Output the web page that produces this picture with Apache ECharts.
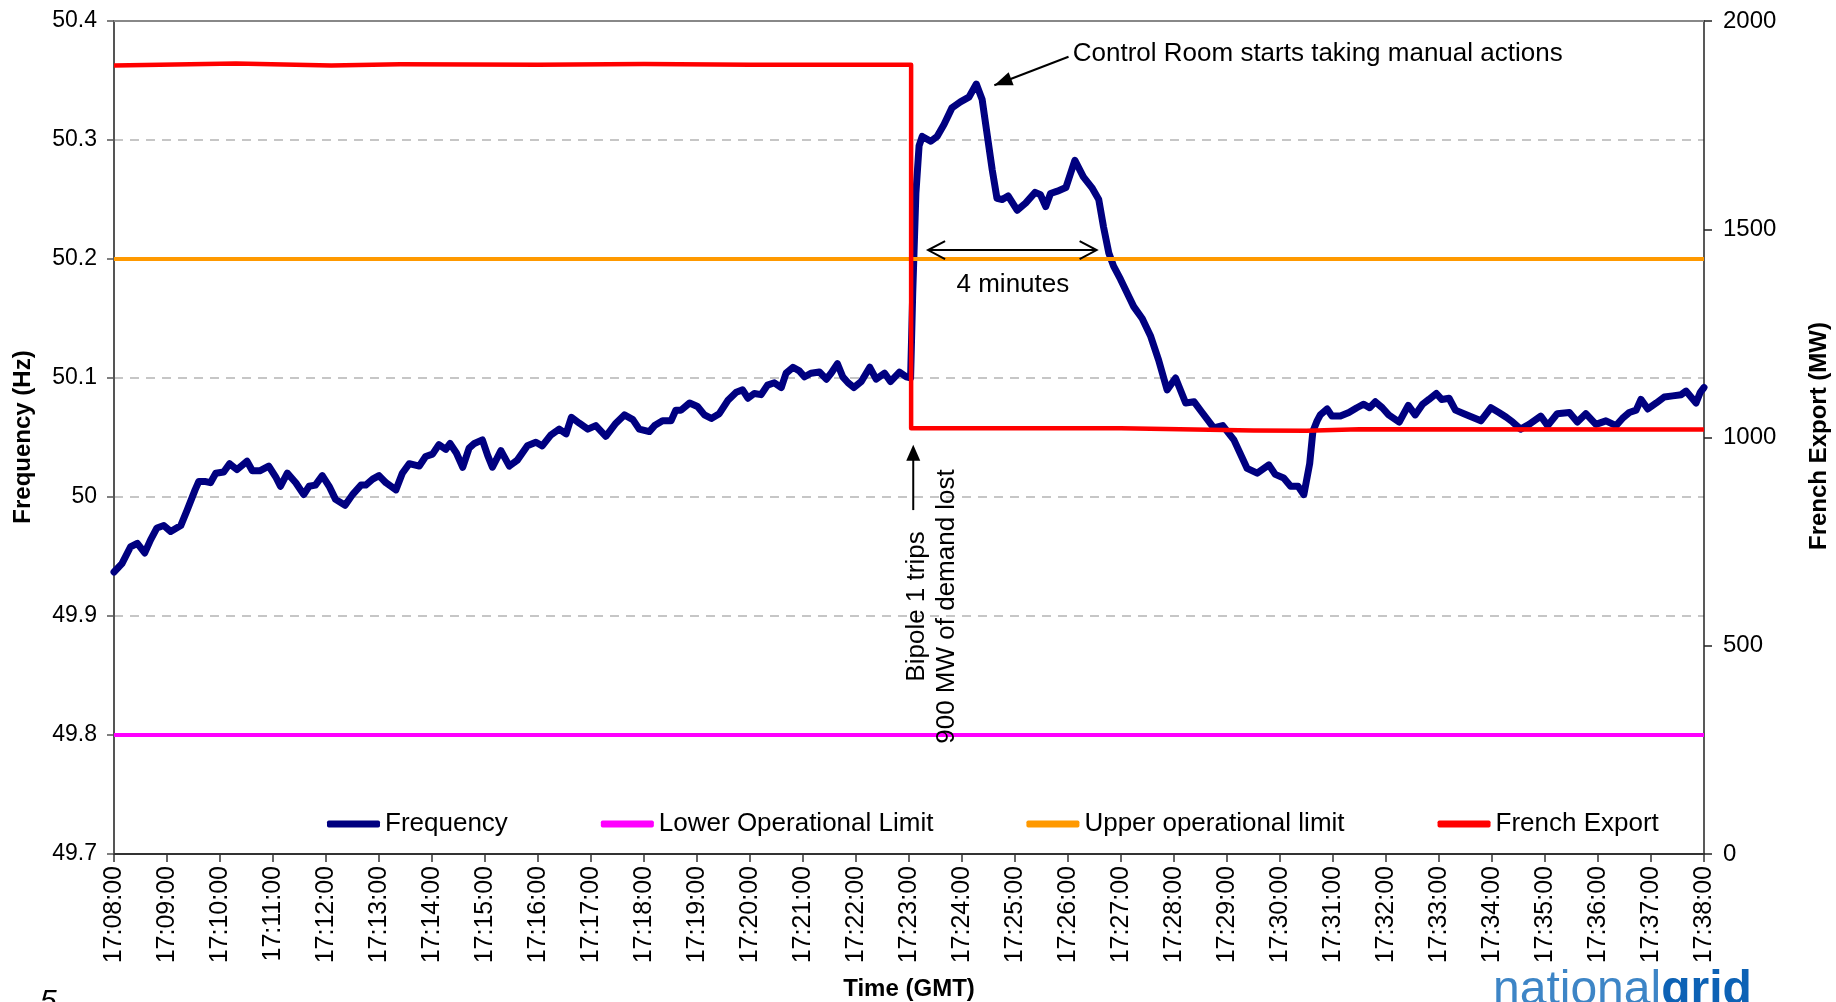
<!DOCTYPE html>
<html>
<head>
<meta charset="utf-8">
<title>Frequency and French Export</title>
<script src="https://cdn.jsdelivr.net/npm/echarts@6/dist/echarts.min.js"></script>
<style>
  html, body { margin: 0; padding: 0; background: #fff; }
  #chart { width: 1836px; height: 1002px; }
</style>
</head>
<body>
<div id="chart"></div>
<script>
// x axis: minutes after 17:08:00, one label per minute
var timeLabels = ['17:08:00', '17:09:00', '17:10:00', '17:11:00', '17:12:00', '17:13:00', '17:14:00',
    '17:15:00', '17:16:00', '17:17:00', '17:18:00', '17:19:00', '17:20:00', '17:21:00', '17:22:00',
    '17:23:00', '17:24:00', '17:25:00', '17:26:00', '17:27:00', '17:28:00', '17:29:00', '17:30:00',
    '17:31:00', '17:32:00', '17:33:00', '17:34:00', '17:35:00', '17:36:00', '17:37:00', '17:38:00'];

// system frequency (Hz): [minutes after 17:08, value]
var frequency = [
    [0, 49.937], [0.15, 49.944], [0.31, 49.958], [0.44, 49.961], [0.58, 49.953], [0.69, 49.964],
    [0.81, 49.974], [0.94, 49.976], [1.07, 49.971], [1.26, 49.976], [1.38, 49.989], [1.53, 50.006],
    [1.60, 50.013], [1.73, 50.013], [1.82, 50.012], [1.92, 50.020], [2.07, 50.021], [2.18, 50.028],
    [2.32, 50.023], [2.51, 50.030], [2.61, 50.022], [2.75, 50.022], [2.92, 50.026], [3.05, 50.017],
    [3.14, 50.009], [3.27, 50.020], [3.43, 50.012], [3.58, 50.002], [3.68, 50.009], [3.80, 50.010],
    [3.93, 50.018], [4.06, 50.009], [4.18, 49.998], [4.36, 49.993], [4.50, 50.002], [4.66, 50.010],
    [4.75, 50.010], [4.88, 50.015], [5.00, 50.018], [5.13, 50.012], [5.32, 50.006], [5.44, 50.020],
    [5.57, 50.028], [5.76, 50.026], [5.88, 50.034], [6.01, 50.036], [6.13, 50.044], [6.26, 50.040],
    [6.34, 50.045], [6.46, 50.037], [6.58, 50.025], [6.70, 50.041], [6.80, 50.045], [6.95, 50.048],
    [7.05, 50.035], [7.14, 50.025], [7.30, 50.039], [7.46, 50.026], [7.61, 50.031], [7.80, 50.043],
    [7.96, 50.046], [8.08, 50.043], [8.24, 50.052], [8.40, 50.057], [8.53, 50.053], [8.63, 50.067],
    [8.78, 50.062], [8.94, 50.057], [9.09, 50.060], [9.28, 50.051], [9.47, 50.062], [9.63, 50.069],
    [9.79, 50.065], [9.91, 50.057], [10.10, 50.055], [10.20, 50.060], [10.35, 50.064], [10.51, 50.064],
    [10.60, 50.073], [10.70, 50.073], [10.86, 50.079], [11.01, 50.076], [11.14, 50.069], [11.27, 50.066],
    [11.42, 50.070], [11.58, 50.081], [11.74, 50.088], [11.86, 50.090], [11.96, 50.083], [12.08, 50.087],
    [12.21, 50.086], [12.33, 50.094], [12.46, 50.096], [12.59, 50.092], [12.68, 50.104], [12.81, 50.109],
    [12.93, 50.106], [13.03, 50.101], [13.15, 50.104], [13.31, 50.105], [13.44, 50.099], [13.53, 50.104],
    [13.65, 50.112], [13.75, 50.101], [13.85, 50.096], [13.96, 50.092], [14.10, 50.097], [14.26, 50.109],
    [14.38, 50.099], [14.54, 50.104], [14.65, 50.097], [14.82, 50.105], [14.95, 50.101], [15.03, 50.100],
    [15.07, 50.171], [15.13, 50.255], [15.19, 50.295], [15.25, 50.303], [15.41, 50.299], [15.53, 50.303],
    [15.66, 50.313], [15.81, 50.327], [15.97, 50.332], [16.13, 50.336], [16.27, 50.347], [16.38, 50.334],
    [16.48, 50.303], [16.57, 50.275], [16.66, 50.251], [16.76, 50.250], [16.87, 50.253], [17.04, 50.241],
    [17.20, 50.247], [17.38, 50.256], [17.48, 50.254], [17.58, 50.244], [17.67, 50.255], [17.80, 50.257],
    [17.96, 50.260], [18.13, 50.283], [18.29, 50.269], [18.45, 50.260], [18.58, 50.250], [18.67, 50.227],
    [18.77, 50.205], [18.86, 50.194], [18.99, 50.183], [19.12, 50.171], [19.24, 50.160], [19.40, 50.150],
    [19.56, 50.135], [19.71, 50.115], [19.87, 50.090], [20.03, 50.100], [20.22, 50.079], [20.38, 50.080],
    [20.53, 50.071], [20.75, 50.058], [20.92, 50.060], [21.13, 50.048], [21.38, 50.024], [21.57, 50.020],
    [21.79, 50.027], [21.91, 50.019], [22.07, 50.016], [22.20, 50.009], [22.34, 50.009], [22.45, 50.002],
    [22.56, 50.028], [22.62, 50.055], [22.70, 50.064], [22.76, 50.069], [22.89, 50.074], [22.98, 50.068],
    [23.14, 50.068], [23.30, 50.071], [23.45, 50.075], [23.58, 50.078], [23.69, 50.075], [23.80, 50.080],
    [23.93, 50.075], [24.05, 50.069], [24.25, 50.063], [24.42, 50.077], [24.55, 50.069], [24.69, 50.078],
    [24.81, 50.082], [24.95, 50.087], [25.05, 50.082], [25.19, 50.083], [25.31, 50.073], [25.47, 50.070],
    [25.63, 50.067], [25.79, 50.064], [25.98, 50.075], [26.13, 50.071], [26.27, 50.067], [26.39, 50.063],
    [26.54, 50.057], [26.70, 50.061], [26.92, 50.068], [27.05, 50.060], [27.23, 50.070], [27.46, 50.071],
    [27.61, 50.063], [27.77, 50.070], [27.96, 50.061], [28.15, 50.064], [28.34, 50.060], [28.46, 50.066],
    [28.59, 50.071], [28.72, 50.073], [28.81, 50.082], [28.94, 50.074], [29.10, 50.079], [29.25, 50.084],
    [29.41, 50.085], [29.57, 50.086], [29.66, 50.089], [29.85, 50.079], [29.93, 50.088], [30.0, 50.092]
];

// French export (MW), secondary axis
var frenchExport = [
    [0, 1893], [2.3, 1898], [4.1, 1893], [5.4, 1896], [8, 1895], [10, 1897], [12, 1895],
    [15.04, 1895], [15.04, 1022], [19, 1022], [21.5, 1017], [22.5, 1016], [23.5, 1020], [30, 1019]
];

// operational limits (Hz)
var lowerLimit = 49.8;
var upperLimit = 50.2;

// annotations, in data units [minutes, Hz]
var controlRoomArrow = { tip: [16.61, 50.346], tail: [18.01, 50.370], label: [18.09, 50.372] };
var fourMinArrow = { from: [15.36, 50.2075], to: [18.54, 50.2075], label: [16.96, 50.178] };
var bipoleArrow = { tip: [15.08, 50.044], tail: [15.08, 49.989], label: [15.44, 49.908] };

var FONT = "'Liberation Sans', Arial, sans-serif";

var chart = echarts.init(document.getElementById('chart'));

function flat(v) {
    return [[0, v], [30, v]];
}

chart.setOption({
    animation: false,
    textStyle: { fontFamily: FONT },
    grid: { left: 114, right: 132, top: 21, bottom: 148 },
    legend: {
        left: 322,
        top: 806,
        itemGap: 93,
        itemWidth: 53,
        itemHeight: 7,
        icon: 'roundRect',
        textStyle: { fontSize: 26, color: '#000', fontFamily: FONT },
        data: ['Frequency', 'Lower Operational Limit', 'Upper operational limit', 'French Export']
    },
    xAxis: [
        {
            type: 'value',
            min: 0,
            max: 30,
            interval: 1,
            axisLine: { onZero: false, lineStyle: { color: '#333', width: 2 } },
            axisTick: { length: 8, lineStyle: { color: '#333', width: 1.5 } },
            axisLabel: {
                rotate: 90,
                margin: 12,
                fontSize: 25,
                color: '#000',
                formatter: function (v) { return timeLabels[Math.round(v)]; }
            },
            splitLine: { show: false }
        },
        {
            // plot area top border
            type: 'value',
            position: 'top',
            min: 0,
            max: 30,
            axisLine: { onZero: false, lineStyle: { color: '#888', width: 2 } },
            axisTick: { show: false },
            axisLabel: { show: false },
            splitLine: { show: false }
        }
    ],
    yAxis: [
        {
            type: 'value',
            min: 49.7,
            max: 50.4,
            interval: 0.1,
            axisLine: { show: true, onZero: false, lineStyle: { color: '#555', width: 2 } },
            axisTick: { show: true, length: 7, lineStyle: { color: '#555', width: 1.5 } },
            axisLabel: { margin: 17, fontSize: 23, color: '#000' },
            splitLine: { lineStyle: { color: '#b4b4b4', width: 1.5, type: [9, 7] } }
        },
        {
            type: 'value',
            position: 'right',
            min: 0,
            max: 2000,
            interval: 500,
            axisLine: { show: true, onZero: false, lineStyle: { color: '#222', width: 1.5 } },
            axisTick: { show: true, length: 8, lineStyle: { color: '#222', width: 1.5 } },
            axisLabel: {
                margin: 19,
                fontSize: 24,
                color: '#000',
                formatter: function (v) { return String(v); }
            },
            splitLine: { show: false }
        }
    ],
    series: [
        {
            name: 'Frequency',
            type: 'line',
            data: frequency,
            showSymbol: false,
            color: '#000080',
            lineStyle: { color: '#000080', width: 7, cap: 'round', join: 'round' },
            z: 2
        },
        {
            name: 'Lower Operational Limit',
            type: 'line',
            data: flat(lowerLimit),
            showSymbol: false,
            color: '#ff00ff',
            lineStyle: { color: '#ff00ff', width: 4 },
            z: 3
        },
        {
            name: 'Upper operational limit',
            type: 'line',
            data: flat(upperLimit),
            showSymbol: false,
            color: '#ff9900',
            lineStyle: { color: '#ff9900', width: 4 },
            z: 3
        },
        {
            name: 'French Export',
            type: 'line',
            yAxisIndex: 1,
            data: frenchExport,
            showSymbol: false,
            color: '#ff0000',
            lineStyle: { color: '#ff0000', width: 4.5, join: 'round' },
            z: 4
        }
    ]
});

// annotation overlay, positioned through the axes
function px(p) {
    return chart.convertToPixel({ xAxisIndex: 0, yAxisIndex: 0 }, p);
}

function head(tip, from, len, half) {
    var dx = tip[0] - from[0], dy = tip[1] - from[1];
    var L = Math.sqrt(dx * dx + dy * dy);
    var ux = dx / L, uy = dy / L;
    var bx = tip[0] - ux * len, by = tip[1] - uy * len;
    return [[bx - uy * half, by + ux * half], tip, [bx + uy * half, by - ux * half]];
}

var crTip = px(controlRoomArrow.tip), crTail = px(controlRoomArrow.tail), crLab = px(controlRoomArrow.label);
var fmA = px(fourMinArrow.from), fmB = px(fourMinArrow.to), fmLab = px(fourMinArrow.label);
var bpTip = px(bipoleArrow.tip), bpTail = px(bipoleArrow.tail), bpLab = px(bipoleArrow.label);

var black = { stroke: '#000', lineWidth: 2, fill: null };

chart.setOption({
    graphic: [
        // Control Room arrow
        { type: 'line', shape: { x1: crTail[0], y1: crTail[1], x2: crTip[0], y2: crTip[1] }, style: black, z: 50 },
        { type: 'polygon', shape: { points: head(crTip, crTail, 18, 7) }, style: { fill: '#000' }, z: 50 },
        {
            type: 'text', x: crLab[0], y: crLab[1], z: 50,
            style: { text: 'Control Room starts taking manual actions', fontSize: 26, fontFamily: FONT, fill: '#000', align: 'left', verticalAlign: 'middle' }
        },
        // 4 minutes double arrow
        { type: 'line', shape: { x1: fmA[0], y1: fmA[1], x2: fmB[0], y2: fmB[1] }, style: black, z: 50 },
        { type: 'polyline', shape: { points: head(fmA, fmB, 17, 9) }, style: black, z: 50 },
        { type: 'polyline', shape: { points: head(fmB, fmA, 17, 9) }, style: black, z: 50 },
        {
            type: 'text', x: fmLab[0], y: fmLab[1], z: 50,
            style: { text: '4 minutes', fontSize: 26, fontFamily: FONT, fill: '#000', align: 'center', verticalAlign: 'middle' }
        },
        // Bipole trip arrow
        { type: 'line', shape: { x1: bpTail[0], y1: bpTail[1], x2: bpTip[0], y2: bpTip[1] + 10 }, style: black, z: 50 },
        { type: 'polygon', shape: { points: head(bpTip, bpTail, 16, 7) }, style: { fill: '#000' }, z: 50 },
        {
            type: 'text', x: bpLab[0], y: bpLab[1], rotation: Math.PI / 2, z: 50,
            style: { text: 'Bipole 1 trips\n900 MW of demand lost', fontSize: 26, lineHeight: 30, fontFamily: FONT, fill: '#000', align: 'center', verticalAlign: 'middle' }
        },
        // axis titles
        {
            type: 'text', x: 23, y: 437, rotation: Math.PI / 2,
            style: { text: 'Frequency (Hz)', fontSize: 24, fontWeight: 'bold', fontFamily: FONT, fill: '#000', align: 'center', verticalAlign: 'middle' }
        },
        {
            type: 'text', x: 1819, y: 436, rotation: Math.PI / 2,
            style: { text: 'French Export (MW)', fontSize: 24, fontWeight: 'bold', fontFamily: FONT, fill: '#000', align: 'center', verticalAlign: 'middle' }
        },
        {
            type: 'text', x: 909, y: 989,
            style: { text: 'Time (GMT)', fontSize: 24, fontWeight: 'bold', fontFamily: FONT, fill: '#000', align: 'center', verticalAlign: 'middle' }
        },
        // slide number and logo, cut by the page edge
        {
            type: 'text', x: 40, y: 987,
            style: { text: '5', fontSize: 30, fontStyle: 'italic', fontFamily: FONT, fill: '#000', align: 'left', verticalAlign: 'top' }
        },
        {
            type: 'text', x: 1493, y: 991,
            style: {
                text: '{a|national}{b|grid}',
                verticalAlign: 'middle',
                align: 'left',
                rich: {
                    a: { fontSize: 48, fontFamily: FONT, fill: '#3d85c6' },
                    b: { fontSize: 48, fontFamily: FONT, fontWeight: 'bold', fill: '#0d62b5' }
                }
            }
        }
    ]
});
</script>
</body>
</html>
